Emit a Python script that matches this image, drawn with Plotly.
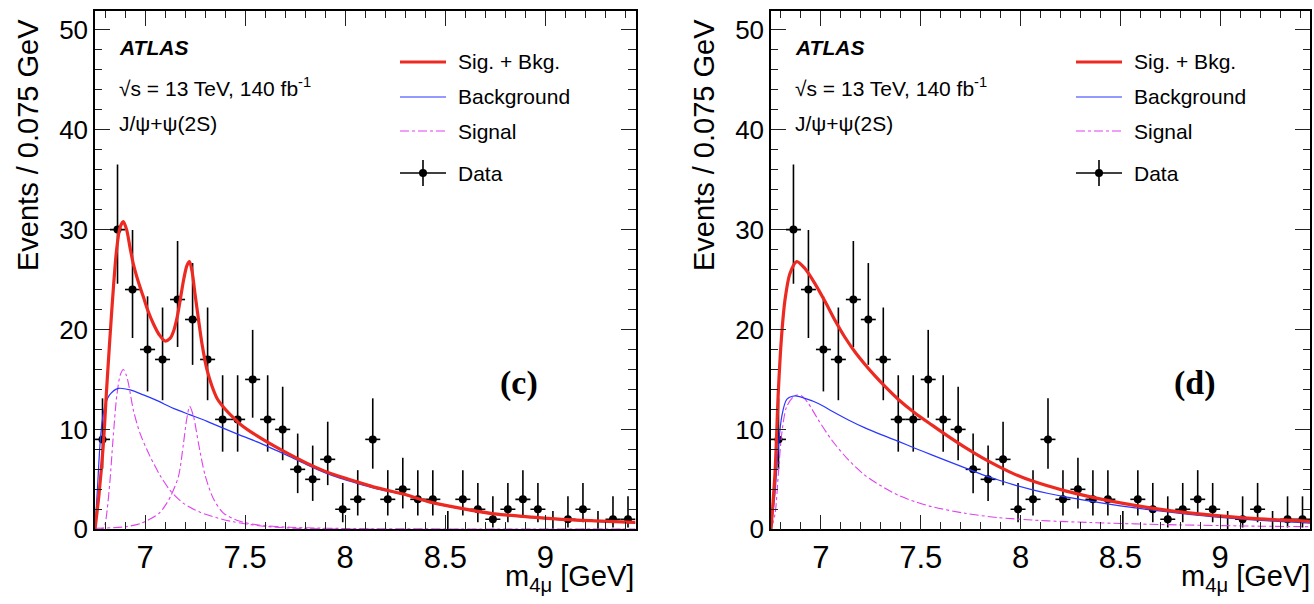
import plotly.graph_objects as go

# ---------------- data ----------------
bin_centers = [6.7875 + 0.075 * i for i in range(36)]
counts = [9, 30, 24, 18, 17, 23, 21, 17, 11, 11, 15, 11, 10, 6, 5, 7, 2, 3, 9,
          3, 4, 3, 3, 0, 3, 2, 1, 2, 3, 2, 0, 1, 2, 0, 1, 1]
err_hi = [4.11, 6.52, 5.96, 5.32, 5.20, 5.86, 5.65, 5.20, 4.42, 4.42, 4.96, 4.42, 4.27, 3.58,
          3.38, 3.77, 2.64, 2.92, 4.11, 2.92, 3.16, 2.92, 2.92, 1.84, 2.92, 2.64, 2.30, 2.64,
          2.92, 2.64, 1.84, 2.30, 2.64, 1.84, 2.30, 2.30]
err_lo = [2.93, 5.42, 4.85, 4.20, 4.08, 4.75, 4.54, 4.08, 3.23, 3.23, 3.83, 3.23, 3.09, 2.38,
          2.16, 2.58, 1.29, 1.63, 2.93, 1.63, 1.91, 1.63, 1.63, 0.0, 1.63, 1.29, 0.83, 1.29,
          1.63, 1.29, 0.0, 0.83, 1.29, 0.0, 0.83, 0.83]
half_bin = 0.0375

# panel (c) curves
c_sb_x = [6.75, 6.77, 6.792, 6.808, 6.825, 6.842, 6.858, 6.875, 6.891, 6.908, 6.925, 6.941,
          6.966, 6.991, 7.016, 7.041, 7.07, 7.1, 7.125, 7.142, 7.16, 7.176, 7.193, 7.209,
          7.222, 7.235, 7.25, 7.267, 7.285, 7.309, 7.335, 7.36, 7.393, 7.435, 7.477, 7.56,
          7.644, 7.727, 7.81, 7.894, 7.977, 8.06, 8.15, 8.295, 8.42, 8.58, 8.746, 8.913,
          9.08, 9.247, 9.45]
c_sb_y = [0, 3.5, 8.6, 14.0, 19.3, 24.2, 28.0, 30.2, 30.8, 30.0, 28.2, 26.6,
          24.8, 23.3, 21.8, 20.6, 19.5, 18.85, 19.1, 19.8, 21.2, 23.0, 25.0, 26.4,
          26.8, 25.8, 23.5, 21.0, 18.5, 16.0, 14.3, 13.1, 12.2, 11.3, 10.5, 9.35,
          8.35, 7.45, 6.6, 5.85, 5.25, 4.75, 4.2, 3.5, 2.75, 2.1, 1.55, 1.25,
          1.0, 0.85, 0.7]
c_bkg_x = [6.75, 6.762, 6.775, 6.787, 6.80, 6.825, 6.867, 6.925, 6.992, 7.058, 7.142, 7.226,
           7.31, 7.393, 7.477, 7.56, 7.644, 7.727, 7.81, 7.894, 7.977, 8.06, 8.15, 8.295,
           8.42, 8.58, 8.746, 8.913, 9.08, 9.247, 9.45]
c_bkg_y = [0, 4.0, 8.5, 11.0, 12.4, 13.5, 14.1, 13.95, 13.45, 12.9, 12.1, 11.45,
           10.8, 10.1, 9.4, 8.75, 8.0, 7.25, 6.45, 5.7, 5.1, 4.6, 4.1, 3.45,
           2.7, 2.05, 1.5, 1.2, 0.95, 0.8, 0.65]
c_sig1_x = [6.75, 6.79, 6.80, 6.81, 6.825, 6.84, 6.859, 6.877, 6.892, 6.905, 6.917, 6.942,
            6.975, 7.025, 7.075, 7.125, 7.192, 7.275, 7.359, 7.442, 7.56, 7.727, 8.0, 9.45]
c_sig1_y = [0, 0.1, 0.5, 1.8, 4.9, 9.0, 13.4, 15.5, 16.0, 15.5, 14.6, 11.9,
            9.6, 7.3, 5.4, 3.9, 2.6, 1.7, 1.15, 0.75, 0.38, 0.12, 0.03, 0.0]
c_sig2_x = [6.75, 6.9, 6.98, 7.07, 7.108, 7.13, 7.167, 7.192, 7.208, 7.223, 7.242, 7.267,
            7.30, 7.343, 7.393, 7.475, 7.56, 7.727, 8.0, 9.45]
c_sig2_y = [0.1, 0.25, 0.6, 1.6, 2.6, 3.4, 5.3, 8.6, 11.0, 12.3, 11.3, 8.6,
            5.4, 3.0, 1.6, 0.8, 0.45, 0.2, 0.08, 0.02]

# panel (d) curves
d_sb_x = [6.75, 6.77, 6.787, 6.804, 6.82, 6.845, 6.879, 6.92, 6.97, 7.021, 7.071, 7.121,
          7.171, 7.221, 7.271, 7.321, 7.388, 7.471, 7.555, 7.638, 7.722, 7.805, 7.889,
          7.972, 8.056, 8.224, 8.35, 8.5, 8.65, 8.8, 9.0, 9.2, 9.45]
d_sb_y = [0, 5.6, 13.9, 19.6, 22.95, 25.6, 26.8, 26.1, 24.6, 22.8, 20.9, 19.2,
          17.75, 16.5, 15.35, 14.3, 13.0, 11.65, 10.45, 9.3, 8.2, 7.2, 6.3,
          5.5, 4.85, 3.85, 3.25, 2.65, 2.15, 1.75, 1.35, 1.05, 0.8]
d_bkg_x = [6.75, 6.77, 6.787, 6.804, 6.829, 6.871, 6.92, 6.987, 7.054, 7.138, 7.221, 7.305,
           7.388, 7.471, 7.555, 7.638, 7.722, 7.805, 7.889, 7.972, 8.056, 8.14, 8.224,
           8.35, 8.5, 8.65, 8.8, 9.0, 9.2, 9.45]
d_bkg_y = [0, 3.6, 8.3, 11.3, 13.0, 13.35, 13.1, 12.6, 11.85, 10.95, 10.15, 9.45,
           8.8, 8.12, 7.45, 6.8, 6.15, 5.5, 4.93, 4.42, 3.97, 3.58, 3.25,
           2.82, 2.35, 1.95, 1.6, 1.2, 0.9, 0.62]
d_sig_x = [6.75, 6.77, 6.787, 6.804, 6.829, 6.871, 6.904, 6.937, 6.987, 7.054, 7.138, 7.221,
           7.305, 7.388, 7.471, 7.555, 7.722, 7.889, 8.056, 8.224, 8.35, 8.5, 8.65, 8.8,
           9.0, 9.2, 9.45]
d_sig_y = [0, 1.5, 5.6, 9.6, 12.3, 13.4, 13.35, 12.6, 10.95, 8.94, 6.94, 5.4,
           4.3, 3.4, 2.77, 2.27, 1.6, 1.17, 0.93, 0.77, 0.68, 0.58, 0.5, 0.44,
           0.37, 0.31, 0.26]

x_ticks = [7, 7.5, 8, 8.5, 9]
x_ticktext = ["7", "7.5", "8", "8.5", "9"]
y_ticks = [0, 10, 20, 30, 40, 50]
y_ticktext = ["0", "10", "20", "30", "40", "50"]

legend_labels = ["Sig. + Bkg.", "Background", "Signal", "Data"]
panel_labels = ["(c)", "(d)"]

# ---------------- style ----------------
W, H = 1314, 604
RED = "#ec2a22"
BLUE = "#2a36ff"
MAG = "#e040f0"
FONT = "Liberation Sans"

def px(x):
    return x / W

def py(y):
    return 1 - y / H

fig = go.Figure()

panels = [
    dict(xa="x", ya="y", curves=[(c_sig1_x, c_sig1_y), (c_sig2_x, c_sig2_y)],
         bkg=(c_bkg_x, c_bkg_y), sb=(c_sb_x, c_sb_y)),
    dict(xa="x2", ya="y2", curves=[(d_sig_x, d_sig_y)],
         bkg=(d_bkg_x, d_bkg_y), sb=(d_sb_x, d_sb_y)),
]

nz = [i for i, c in enumerate(counts) if c > 0]
zz = [i for i, c in enumerate(counts) if c == 0]

for p in panels:
    # zero bins: error bars only
    fig.add_trace(go.Scatter(
        x=[bin_centers[i] for i in zz], y=[counts[i] for i in zz], mode="markers",
        xaxis=p["xa"], yaxis=p["ya"], marker=dict(color="rgba(0,0,0,0)", size=1),
        error_y=dict(type="data", symmetric=False, array=[err_hi[i] for i in zz],
                     arrayminus=[err_lo[i] for i in zz], color="black", thickness=1.6, width=0),
        showlegend=False))
    fig.add_trace(go.Scatter(
        x=[bin_centers[i] for i in nz], y=[counts[i] for i in nz], mode="markers",
        xaxis=p["xa"], yaxis=p["ya"],
        marker=dict(color="black", size=8, symbol="circle"),
        error_y=dict(type="data", symmetric=False, array=[err_hi[i] for i in nz],
                     arrayminus=[err_lo[i] for i in nz], color="black", thickness=1.6, width=0),
        error_x=dict(type="constant", value=half_bin, color="black", thickness=1.6, width=0),
        showlegend=False))
    for cx, cy in p["curves"]:
        fig.add_trace(go.Scatter(x=cx, y=cy, mode="lines", xaxis=p["xa"], yaxis=p["ya"],
                                 line=dict(color=MAG, width=1.1, dash="dashdot", shape="spline",
                                           smoothing=0.8),
                                 showlegend=False))
    fig.add_trace(go.Scatter(x=p["bkg"][0], y=p["bkg"][1], mode="lines", xaxis=p["xa"],
                             yaxis=p["ya"], line=dict(color=BLUE, width=1.2, shape="spline",
                                                      smoothing=0.8),
                             showlegend=False))
    fig.add_trace(go.Scatter(x=p["sb"][0], y=p["sb"][1], mode="lines", xaxis=p["xa"],
                             yaxis=p["ya"], line=dict(color=RED, width=3.2, shape="spline",
                                                      smoothing=0.8),
                             showlegend=False))

x_dom = [[95 / W, 635.5 / W], [771 / W, 1310 / W]]
y_dom = [1 - 529.3 / H, 1 - 11 / H]

axis_common = dict(showline=True, linecolor="black", linewidth=1.5, mirror="ticks",
                   ticks="inside", ticklen=15, tickwidth=1.3, tickcolor="#222",
                   showgrid=False, zeroline=False, automargin=False)

for i, suf in enumerate(["", "2"]):
    fig.layout["xaxis" + suf] = dict(
        axis_common, domain=x_dom[i], range=[6.75, 9.45], tickvals=x_ticks,
        ticktext=x_ticktext, anchor="y" + suf,
        tickfont=dict(family=FONT, size=31, color="black"),
        minor=dict(ticks="inside", ticklen=7.5, dtick=0.1, tick0=6.7, tickwidth=1.1,
                   tickcolor="#222", showgrid=False))
    fig.layout["yaxis" + suf] = dict(
        axis_common, domain=y_dom, range=[0, 51.88], tickvals=y_ticks,
        ticktext=y_ticktext, anchor="x" + suf,
        tickfont=dict(family=FONT, size=26, color="black"),
        minor=dict(ticks="inside", ticklen=7.5, dtick=2, tick0=0, tickwidth=1.1,
                   tickcolor="#222", showgrid=False))

shapes = []
annotations = []
for i in range(2):
    dx = 0 if i == 0 else 676
    # header text
    annotations.append(dict(x=px(117 + dx), y=py(47), xref="paper", yref="paper",
                            text="<b><i>ATLAS</i></b>", showarrow=False, xanchor="left",
                            yanchor="middle", font=dict(family=FONT, size=21, color="black")))
    annotations.append(dict(x=px(117 + dx), y=py(87), xref="paper", yref="paper",
                            text="\u221as = 13 TeV, 140 fb<sup>-1</sup>", showarrow=False,
                            xanchor="left", yanchor="middle",
                            font=dict(family=FONT, size=21, color="black")))
    annotations.append(dict(x=px(117 + dx), y=py(124), xref="paper", yref="paper",
                            text="J/\u03c8+\u03c8(2S)", showarrow=False, xanchor="left",
                            yanchor="middle", font=dict(family=FONT, size=21, color="black")))
    # legend
    ys = [62, 97, 131, 173]
    styles = [dict(color=RED, width=3.2), dict(color=BLUE, width=1.2),
              dict(color=MAG, width=1.1, dash="dashdot"), dict(color="black", width=1.6)]
    for k in range(4):
        shapes.append(dict(type="line", xref="paper", yref="paper",
                           x0=px(400 + dx), x1=px(446 + dx), y0=py(ys[k]), y1=py(ys[k]),
                           line=styles[k]))
        annotations.append(dict(x=px(456 + dx), y=py(ys[k]), xref="paper", yref="paper",
                                text=legend_labels[k], showarrow=False, xanchor="left",
                                yanchor="middle",
                                font=dict(family=FONT, size=21, color="black")))
    shapes.append(dict(type="line", xref="paper", yref="paper", x0=px(423 + dx),
                       x1=px(423 + dx), y0=py(160), y1=py(186),
                       line=dict(color="black", width=1.6)))
    shapes.append(dict(type="circle", xref="paper", yref="paper", x0=px(419 + dx),
                       x1=px(427 + dx), y0=py(177), y1=py(169),
                       fillcolor="black", line=dict(color="black", width=0)))
    # panel label
    annotations.append(dict(x=px(519 + dx), y=py(383), xref="paper", yref="paper",
                            text="<b>" + panel_labels[i] + "</b>", showarrow=False,
                            xanchor="center", yanchor="middle",
                            font=dict(family="Liberation Serif", size=34, color="black")))
    # axis titles
    annotations.append(dict(x=px(28 + dx), y=py(145), xref="paper", yref="paper",
                            text="Events / 0.075 GeV", showarrow=False, textangle=-90,
                            xanchor="center", yanchor="middle",
                            font=dict(family=FONT, size=29, color="black")))
    annotations.append(dict(x=px(636 + dx), y=py(578), xref="paper", yref="paper",
                            text="m<sub>4\u03bc</sub> [GeV]", showarrow=False,
                            xanchor="right", yanchor="middle",
                            font=dict(family=FONT, size=29, color="black")))

fig.update_layout(width=W, height=H, margin=dict(l=0, r=0, t=0, b=0, autoexpand=False),
                  paper_bgcolor="white", plot_bgcolor="white",
                  shapes=shapes, annotations=annotations, showlegend=False)

fig.write_html("out.html")
